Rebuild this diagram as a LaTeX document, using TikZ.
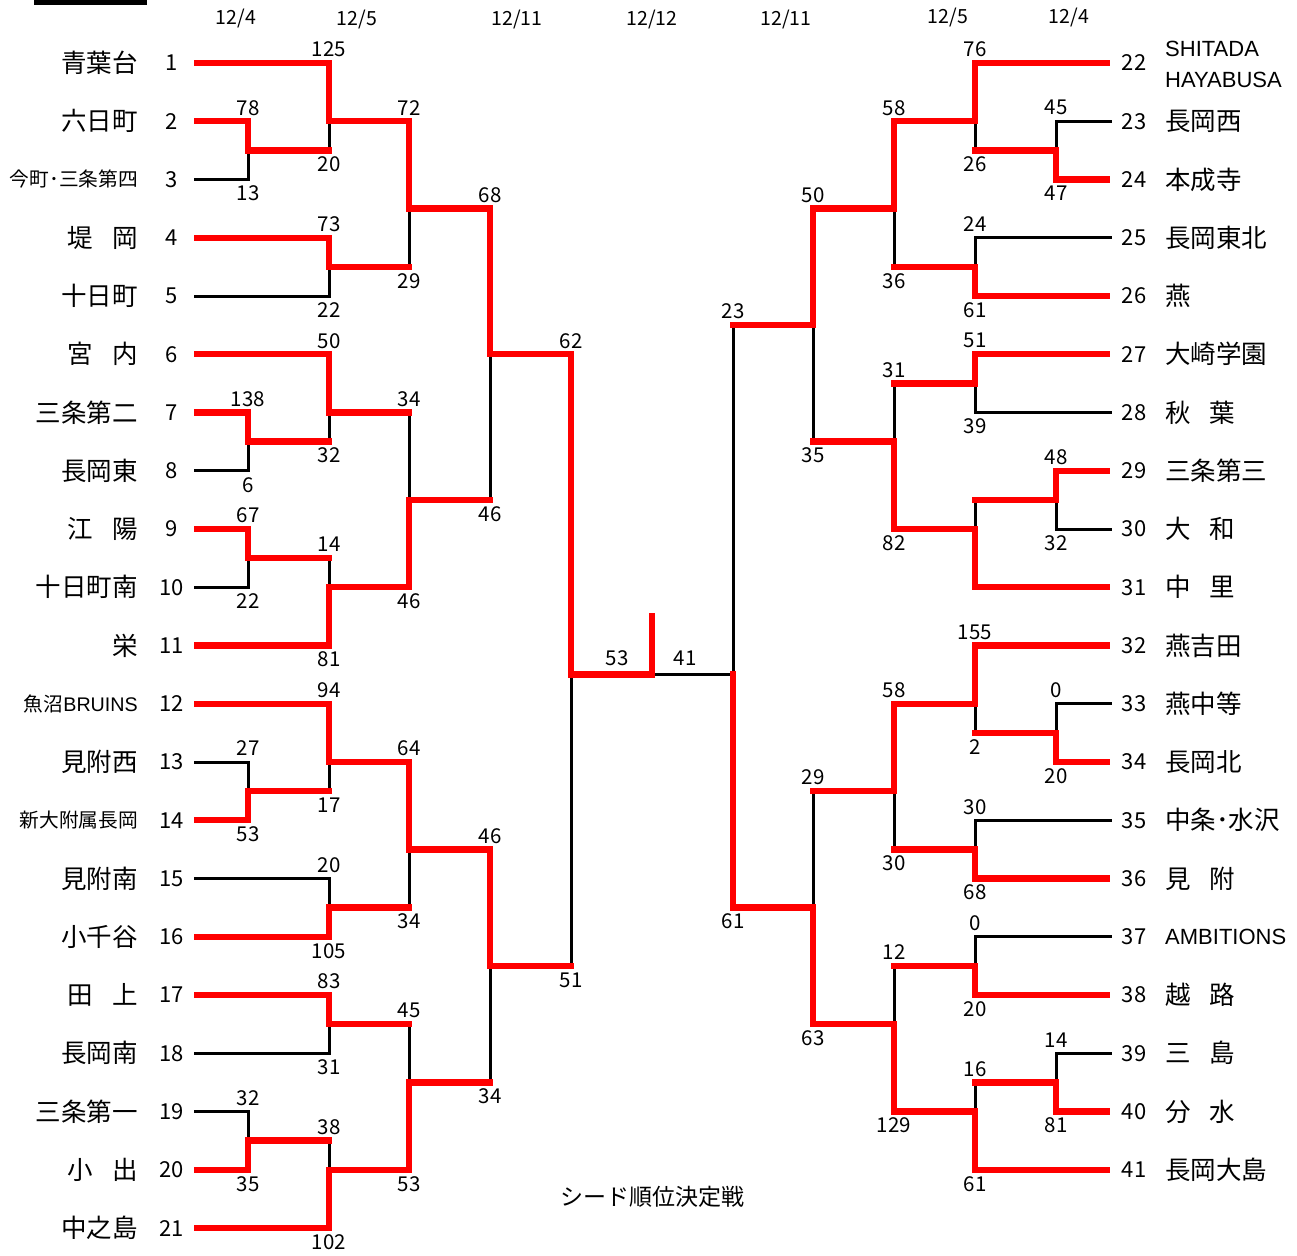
\documentclass[tikz,border=0pt]{standalone}
\usepackage{fontspec}
\setmainfont{Noto Sans CJK JP}
\newfontfamily\lat{Liberation Sans}
\usetikzlibrary{calc}
\pgfdeclarelayer{bg}
\pgfsetlayers{bg,main}
\newcommand\Y[1]{63+29.125*(#1)}
\newcommand\zsp{\hspace{0.75em}}
\newcommand\snm{\fontsize{19.7}{20}\selectfont}
\def\xA{195}\def\xB{248}\def\xC{329}\def\xD{409}\def\xE{490}\def\xF{571}\def\xG{652}
\def\yF{733}\def\yE{813}\def\yD{894}\def\yC{975}\def\yB{1056}\def\yA{1110}
\tikzset{
  rd/.style={line width=6.3pt, red, line cap=rect},
  bk/.style={line width=3pt, black, line cap=rect},
  sc/.style={font=\fontsize{20.5}{20.5}\selectfont, inner sep=0pt},
  num/.style={font=\fontsize{22}{22}\selectfont, inner sep=0pt},
  nm/.style={font=\fontsize{25.5}{26}\selectfont, inner sep=0pt},
  dt/.style={font=\fontsize{19.5}{19.5}\selectfont, inner sep=0pt},
}
% horizontal red / black
\newcommand\HR[3]{\draw[rd] (#1,{\Y{#3}}) -- (#2,{\Y{#3}});}
\newcommand\HB[3]{\begin{pgfonlayer}{bg}\draw[bk] (#1,{\Y{#3}}) -- (#2,{\Y{#3}});\end{pgfonlayer}}
% match: id, x, top row, bottom row, out row, top score, bottom score
\newcommand\MT[7]{%
  \begin{pgfonlayer}{bg}\draw[bk] (#2,{\Y{#5}}) -- (#2,{\Y{#4}});\end{pgfonlayer}
  \draw[rd] (#2,{\Y{#3}}) -- (#2,{\Y{#5}});
  \node[sc] (m#1t) at (#2,{\Y{#3}-13.5}) {#6};
  \node[sc] (m#1b) at (#2,{\Y{#4}+14}) {#7};}
\newcommand\MB[7]{%
  \begin{pgfonlayer}{bg}\draw[bk] (#2,{\Y{#3}}) -- (#2,{\Y{#5}});\end{pgfonlayer}
  \draw[rd] (#2,{\Y{#5}}) -- (#2,{\Y{#4}});
  \node[sc] (m#1t) at (#2,{\Y{#3}-13.5}) {#6};
  \node[sc] (m#1b) at (#2,{\Y{#4}+14}) {#7};}
% teams: row, number, name
\newcommand\TL[3]{%
  \node[num] (k#2) at (171.5,{\Y{#1}}) {#2};
  \node[nm,anchor=east] (n#2) at (138,{\Y{#1}}) {#3};}
\newcommand\TR[3]{%
  \node[num] (k#2) at (1134,{\Y{#1}}) {#2};
  \node[nm,anchor=west] (n#2) at (1165,{\Y{#1}}) {#3};}
\begin{document}
\begin{tikzpicture}[x=1pt,y=-1pt]
\useasboundingbox (0,0) rectangle (1297,1255);
\fill[black] (34,0) rectangle (147,5);
% dates
\node[dt] (d1) at (236,19) {12/4};
\node[dt] (d2) at (357,20) {12/5};
\node[dt] (d3) at (517,20) {12/11};
\node[dt] (d4) at (652,20) {12/12};
\node[dt] (d5) at (786,20) {12/11};
\node[dt] (d6) at (948,18) {12/5};
\node[dt] (d7) at (1069,18) {12/4};
% left teams
\TL{0}{1}{青葉台}
\TL{2}{2}{六日町}
\TL{4}{3}{\snm 今町･三条第四}
\TL{6}{4}{堤\zsp 岡}
\TL{8}{5}{十日町}
\TL{10}{6}{宮\zsp 内}
\TL{12}{7}{三条第二}
\TL{14}{8}{長岡東}
\TL{16}{9}{江\zsp 陽}
\TL{18}{10}{十日町南}
\TL{20}{11}{栄}
\TL{22}{12}{\snm 魚沼{\lat BRUINS}}
\TL{24}{13}{見附西}
\TL{26}{14}{\snm 新大附属長岡}
\TL{28}{15}{見附南}
\TL{30}{16}{小千谷}
\TL{32}{17}{田\zsp 上}
\TL{34}{18}{長岡南}
\TL{36}{19}{三条第一}
\TL{38}{20}{小\zsp 出}
\TL{40}{21}{中之島}
% right teams
\node[num] (k22) at (1134,{\Y{0}}) {22};
\node[font=\lat\fontsize{22}{31}\selectfont, inner sep=0pt, align=left, anchor=west] (n22) at (1165,64) {SHITADA\\HAYABUSA};
\TR{2}{23}{長岡西}
\TR{4}{24}{本成寺}
\TR{6}{25}{長岡東北}
\TR{8}{26}{燕}
\TR{10}{27}{大崎学園}
\TR{12}{28}{秋\zsp 葉}
\TR{14}{29}{三条第三}
\TR{16}{30}{大\zsp 和}
\TR{18}{31}{中\zsp 里}
\TR{20}{32}{燕吉田}
\TR{22}{33}{燕中等}
\TR{24}{34}{長岡北}
\TR{26}{35}{中条･水沢}
\TR{28}{36}{見\zsp 附}
\TR{30}{37}{{\lat\fontsize{22}{22}\selectfont AMBITIONS}}
\TR{32}{38}{越\zsp 路}
\TR{34}{39}{三\zsp 島}
\TR{36}{40}{分\zsp 水}
\TR{38}{41}{長岡大島}
% left team lines
\HR{197.5}{\xC}{0}  \HR{197.5}{\xB}{2}  \HB{195}{\xB}{4}
\HR{197.5}{\xC}{6}  \HB{195}{\xC}{8}    \HR{197.5}{\xC}{10}
\HR{197.5}{\xB}{12} \HB{195}{\xB}{14}   \HR{197.5}{\xB}{16}
\HB{195}{\xB}{18}   \HR{197.5}{\xC}{20} \HR{197.5}{\xC}{22}
\HB{195}{\xB}{24}   \HR{197.5}{\xB}{26} \HB{195}{\xC}{28}
\HR{197.5}{\xC}{30} \HR{197.5}{\xC}{32} \HB{195}{\xC}{34}
\HB{195}{\xB}{36}   \HR{197.5}{\xB}{38} \HR{197.5}{\xC}{40}
% left outputs
\HR{\xB}{\xC}{3}  \HR{\xC}{\xD}{2}  \HR{\xC}{\xD}{7}  \HR{\xD}{\xE}{5}
\HR{\xB}{\xC}{13} \HR{\xC}{\xD}{12} \HR{\xB}{\xC}{17} \HR{\xC}{\xD}{18}
\HR{\xD}{\xE}{15} \HR{\xE}{\xF}{10}
\HR{\xB}{\xC}{25} \HR{\xC}{\xD}{24} \HR{\xC}{\xD}{29} \HR{\xD}{\xE}{27}
\HR{\xC}{\xD}{33} \HR{\xB}{\xC}{37} \HR{\xC}{\xD}{38} \HR{\xD}{\xE}{35}
\HR{\xE}{\xF}{31}
% left matches
\MT{A}{\xB}{2}{4}{3}{78}{13}
\MT{B}{\xC}{0}{3}{2}{125}{20}
\MT{C}{\xC}{6}{8}{7}{73}{22}
\MT{D}{\xD}{2}{7}{5}{72}{29}
\MT{E}{\xB}{12}{14}{13}{138}{6}
\MT{F}{\xC}{10}{13}{12}{50}{32}
\MT{G}{\xB}{16}{18}{17}{67}{22}
\MB{H}{\xC}{17}{20}{18}{14}{81}
\MB{I}{\xD}{12}{18}{15}{34}{46}
\MT{J}{\xE}{5}{15}{10}{68}{46}
\MB{K}{\xB}{24}{26}{25}{27}{53}
\MT{L}{\xC}{22}{25}{24}{94}{17}
\MB{M}{\xC}{28}{30}{29}{20}{105}
\MT{N}{\xD}{24}{29}{27}{64}{34}
\MT{O}{\xC}{32}{34}{33}{83}{31}
\MB{P}{\xB}{36}{38}{37}{32}{35}
\MB{Q}{\xC}{37}{40}{38}{38}{102}
\MB{R}{\xD}{33}{38}{35}{45}{53}
\MT{S}{\xE}{27}{35}{31}{46}{34}
\MT{T}{\xF}{10}{31}{21}{62}{51}
% final
\HR{\xF}{\xG}{21}
\draw[rd] (\xG,{\Y{21}}) -- (\xG,{\Y{19}});
\HB{\xG}{\yF}{21}
\node[sc] (fl) at (617,{\Y{21}-16}) {53};
\node[sc] (fr) at (685,{\Y{21}-16}) {41};
% right team lines
\HR{\yC}{1107}{0}  \HB{\yB}{1110}{2}  \HR{\yB}{1107}{4}
\HB{\yC}{1110}{6}  \HR{\yC}{1107}{8}  \HR{\yC}{1107}{10}
\HB{\yC}{1110}{12} \HR{\yB}{1107}{14} \HB{\yB}{1110}{16}
\HR{\yC}{1107}{18} \HR{\yC}{1107}{20} \HB{\yB}{1110}{22}
\HR{\yB}{1107}{24} \HB{\yC}{1110}{26} \HR{\yC}{1107}{28}
\HB{\yC}{1110}{30} \HR{\yC}{1107}{32} \HB{\yB}{1110}{34}
\HR{\yB}{1107}{36} \HR{\yC}{1107}{38}
% right outputs
\HR{\yC}{\yB}{3}  \HR{\yD}{\yC}{2}  \HR{\yD}{\yC}{7}  \HR{\yE}{\yD}{5}
\HR{\yD}{\yC}{11} \HR{\yC}{\yB}{15} \HR{\yD}{\yC}{16} \HR{\yE}{\yD}{13}
\HR{\yF}{\yE}{9}
\HR{\yC}{\yB}{23} \HR{\yD}{\yC}{22} \HR{\yD}{\yC}{27} \HR{\yE}{\yD}{25}
\HR{\yD}{\yC}{31} \HR{\yC}{\yB}{35} \HR{\yD}{\yC}{36} \HR{\yE}{\yD}{33}
\HR{\yF}{\yE}{29}
% right matches
\MB{a}{\yB}{2}{4}{3}{45}{47}
\MT{b}{\yC}{0}{3}{2}{76}{26}
\MB{c}{\yC}{6}{8}{7}{24}{61}
\MT{d}{\yD}{2}{7}{5}{58}{36}
\MT{e}{\yC}{10}{12}{11}{51}{39}
\MT{f}{\yB}{14}{16}{15}{48}{32}
\begin{pgfonlayer}{bg}\draw[bk] (\yC,{\Y{15}}) -- (\yC,{\Y{16}});\end{pgfonlayer}
\draw[rd] (\yC,{\Y{16}}) -- (\yC,{\Y{18}});
\MB{h}{\yD}{11}{16}{13}{31}{82}
\MT{i}{\yE}{5}{13}{9}{50}{35}
\MB{j}{\yB}{22}{24}{23}{0}{20}
\MT{k}{\yC}{20}{23}{22}{155}{2}
\MB{l}{\yC}{26}{28}{27}{30}{68}
\MT{m}{\yD}{22}{27}{25}{58}{30}
\MB{n}{\yC}{30}{32}{31}{0}{20}
\MB{o}{\yB}{34}{36}{35}{14}{81}
\MB{p}{\yC}{35}{38}{36}{16}{61}
\MB{q}{\yD}{31}{36}{33}{12}{129}
\MB{r}{\yE}{25}{33}{29}{29}{63}
\MB{s}{\yF}{9}{29}{21}{23}{61}
% caption
\node[font=\fontsize{23}{23}\selectfont, inner sep=0pt] (cap) at (652,1197) {シード順位決定戦};
\end{tikzpicture}
\end{document}
